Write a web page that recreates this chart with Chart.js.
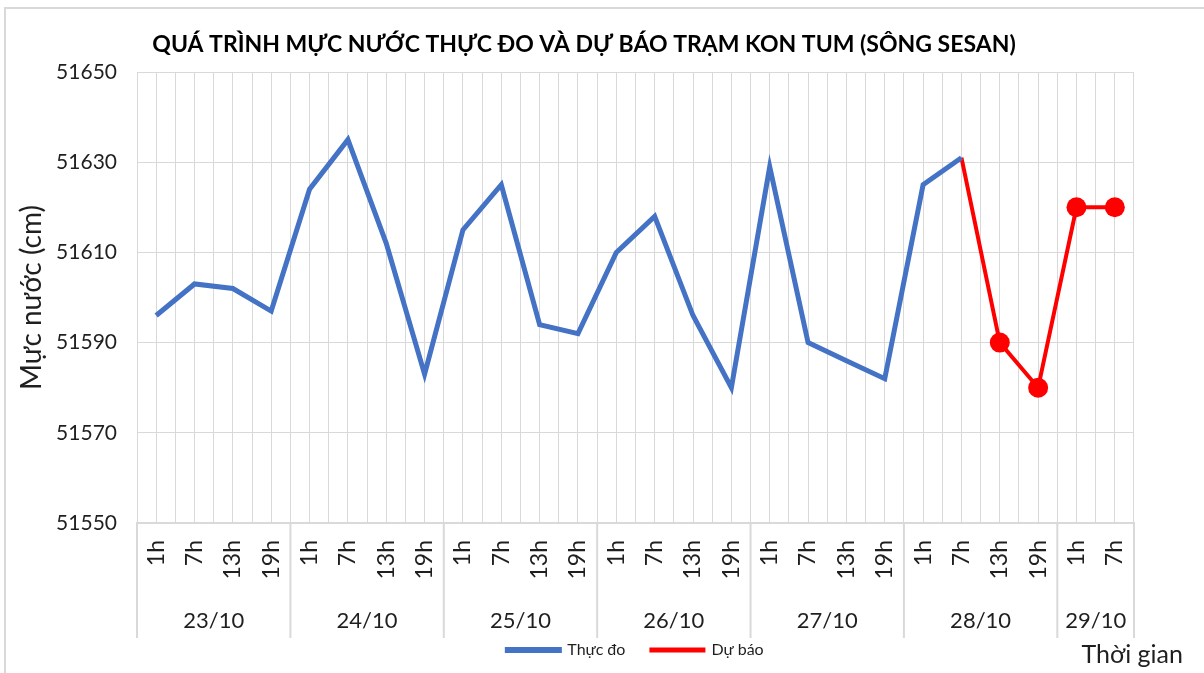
<!DOCTYPE html>
<html>
<head>
<meta charset="utf-8">
<title>Mực nước trạm Kon Tum</title>
<script src="https://cdn.jsdelivr.net/npm/chart.js@4.4.1/dist/chart.umd.min.js"></script>
<style>
  html, body { margin: 0; padding: 0; background: #fff; }
  #wrap { position: relative; width: 1204px; height: 673px; }
</style>
</head>
<body>
<div id="wrap"><canvas id="chart" width="1204" height="673"></canvas></div>
<script>
// hour of each observation and the day it belongs to
const hours = ['1h', '7h', '13h', '19h', '1h', '7h', '13h', '19h', '1h', '7h', '13h', '19h',
  '1h', '7h', '13h', '19h', '1h', '7h', '13h', '19h', '1h', '7h', '13h', '19h', '1h', '7h'];
const days = ['23/10', '23/10', '23/10', '23/10', '24/10', '24/10', '24/10', '24/10',
  '25/10', '25/10', '25/10', '25/10', '26/10', '26/10', '26/10', '26/10',
  '27/10', '27/10', '27/10', '27/10', '28/10', '28/10', '28/10', '28/10', '29/10', '29/10'];

// measured water level (cm)
const measured = [51596, 51603, 51602, 51597, 51624, 51635, 51612, 51583, 51615, 51625, 51594,
  51592, 51610, 51618, 51596, 51580, 51629, 51590, 51586, 51582, 51625, 51631];
// forecast, starting from the last measured point
const forecast = [51631, 51590, 51580, 51620, 51620];

const yTicks = [51550, 51570, 51590, 51610, 51630, 51650];

const forecastFrom = measured.length - 1;
const forecastSeries = hours.map((h, i) => (i >= forecastFrom ? forecast[i - forecastFrom] : null));

const FONT = 'Lato, "Open Sans", sans-serif';
const TEXT = '#1f1f1f';
const GRID = '#d9d9d9';

// day group labels, separators, axis titles, outer frame
const extras = {
  id: 'extras',
  beforeDraw(chart) {
    const ctx = chart.ctx;
    ctx.save();
    ctx.strokeStyle = GRID;
    ctx.lineWidth = 2;
    ctx.strokeRect(5, 8, 1400, 900);
    ctx.restore();
  },
  afterDraw(chart) {
    const { ctx, chartArea } = chart;
    const x = chart.scales.x;
    const half = (x.getPixelForValue(1) - x.getPixelForValue(0)) / 2;
    ctx.save();
    ctx.strokeStyle = GRID;
    ctx.lineWidth = 2;
    ctx.fillStyle = TEXT;
    ctx.font = '22px ' + FONT;
    ctx.textAlign = 'center';
    ctx.textBaseline = 'middle';
    let start = 0;
    for (let i = 1; i <= days.length; i++) {
      if (i === days.length || days[i] !== days[start]) {
        const left = x.getPixelForValue(start) - half;
        const right = x.getPixelForValue(i - 1) + half;
        ctx.beginPath();
        ctx.moveTo(left, chartArea.bottom);
        ctx.lineTo(left, chartArea.bottom + 115);
        if (i === days.length) {
          ctx.moveTo(right, chartArea.bottom);
          ctx.lineTo(right, chartArea.bottom + 115);
        }
        ctx.stroke();
        ctx.fillText(days[start], (left + right) / 2, chartArea.bottom + 98);
        start = i;
      }
    }
    // y axis title
    ctx.font = '28px ' + FONT;
    ctx.translate(32, (chartArea.top + chartArea.bottom) / 2);
    ctx.rotate(-Math.PI / 2);
    ctx.fillText('Mực nước (cm)', 0, 0);
    ctx.restore();

    ctx.save();
    ctx.fillStyle = TEXT;
    ctx.font = '25px ' + FONT;
    ctx.textAlign = 'right';
    ctx.textBaseline = 'middle';
    ctx.fillText('Thời gian', 1183, 655);
    ctx.restore();
  }
};

new Chart(document.getElementById('chart'), {
  type: 'line',
  data: {
    labels: hours,
    datasets: [
      {
        label: 'Thực đo',
        data: measured,
        borderColor: '#4472C4',
        backgroundColor: '#4472C4',
        borderWidth: 5,
        pointRadius: 0,
        tension: 0
      },
      {
        label: 'Dự báo',
        data: forecastSeries,
        borderColor: '#FF0000',
        backgroundColor: '#FF0000',
        borderWidth: 4,
        pointRadius: (c) => (c.dataIndex > forecastFrom ? 10 : 0),
        pointBackgroundColor: '#FF0000',
        pointBorderWidth: 0,
        tension: 0
      }
    ]
  },
  options: {
    responsive: false,
    animation: false,
    layout: { padding: { left: 34, right: 70, top: 0, bottom: 5 } },
    plugins: {
      title: {
        display: true,
        text: 'QUÁ TRÌNH MỰC NƯỚC THỰC ĐO VÀ DỰ BÁO TRẠM KON TUM (SÔNG SESAN)',
        color: '#000',
        font: { family: FONT, size: 23, weight: 'bold' },
        padding: { top: 31, bottom: 13.4 }
      },
      legend: {
        position: 'bottom',
        fullSize: false,
        labels: {
          color: TEXT,
          font: { family: FONT, size: 16 },
          boxWidth: 52,
          boxHeight: 1,
          padding: 26
        }
      },
      tooltip: { enabled: false }
    },
    scales: {
      x: {
        type: 'category',
        offset: true,
        grid: { offset: true, color: GRID, drawTicks: false },
        border: { color: GRID, width: 2 },
        ticks: {
          color: TEXT,
          font: { family: FONT, size: 23 },
          minRotation: 90,
          maxRotation: 90,
          autoSkip: false,
          padding: 17
        },
        afterFit: (s) => { s.height = 93; }
      },
      x2: {
        type: 'category',
        position: 'top',
        offset: true,
        grid: { offset: false, color: GRID, drawTicks: false },
        border: { display: false },
        ticks: { display: false },
        afterFit: (s) => { s.height = 0; }
      },
      y: {
        min: yTicks[0],
        max: yTicks[yTicks.length - 1],
        afterBuildTicks: (s) => { s.ticks = yTicks.map((v) => ({ value: v })); },
        grid: { color: GRID, drawTicks: false },
        border: { color: GRID },
        ticks: {
          color: TEXT,
          font: { family: FONT, size: 21 },
          padding: 20,
          callback: (v) => String(v)
        },
        afterFit: (s) => { s.width = 103; }
      }
    }
  },
  plugins: [extras]
});
</script>
</body>
</html>
